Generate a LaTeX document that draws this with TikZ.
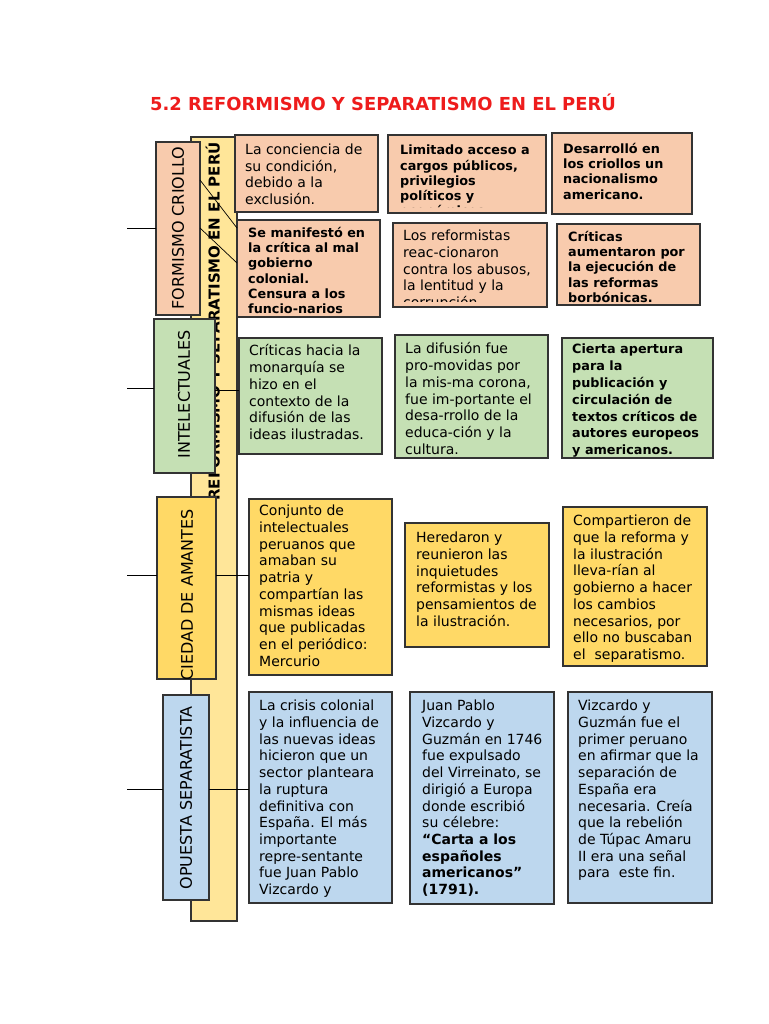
\documentclass[tikz,border=0pt]{standalone}
\usepackage{fontspec}
\setmainfont{DejaVu Sans}
\usetikzlibrary{calc,fit}
\definecolor{salmon}{HTML}{F8CBAD}
\definecolor{lgreen}{HTML}{C5E0B4}
\definecolor{gold}{HTML}{FFD966}
\definecolor{lblue}{HTML}{BDD7EE}
\definecolor{barfill}{HTML}{FFE699}
\definecolor{edge}{HTML}{333333}
\definecolor{titlered}{HTML}{EE1C1C}
% content box: name, fill, x1, y1, x2, y2, text-node options, text, bottom clip inset
\newcommand{\cbx}[9]{%
  \node[boxst, fill=#2, fit={(#3,#4) (#5,#6)}] (#1) {};
  \begin{scope}
    \clip ($(#1.north west)+(1,1)$) rectangle ($(#1.south east)+(-1,-#9)$);
    \node[#7] (#1t) {#8};
  \end{scope}}
% label box
\newcommand{\lbx}[8]{%
  \node[boxst, fill=#2, fit={(#3,#4) (#5,#6)}] (#1) {};
  \begin{scope}
    \clip ($(#1.north west)+(0.7,0.7)$) rectangle ($(#1.south east)+(-0.7,-0.7)$);
    \node[lab,#7] (#1t) {#8};
  \end{scope}}
\begin{document}
\begin{tikzpicture}[x=1pt,y=-1pt,
  boxst/.style={draw=edge, line width=1.3pt, inner sep=0pt, outer sep=0pt},
  nt/.style={inner sep=0pt, align=left, anchor=north west, font=\fontsize{14}{16.7}\selectfont},
  bt/.style={inner sep=0pt, align=left, anchor=north west, font=\bfseries\fontsize{12.8}{15.2}\selectfont},
  btw/.style={inner sep=0pt, align=left, anchor=north west, font=\bfseries\fontsize{12.8}{16.8}\selectfont},
  lab/.style={inner sep=0pt, rotate=90, font=\fontsize{16}{18}\selectfont},
  conn/.style={draw=black, line width=0.9pt},
  thinconn/.style={draw=black, line width=0.7pt},
  titlest/.style={inner sep=0pt, anchor=base west, text=titlered, font=\bfseries\fontsize{17.9}{20}\selectfont},
  bartxt/.style={inner sep=0pt, rotate=90, anchor=base east, font=\bfseries\fontsize{15}{18}\selectfont}
]
\useasboundingbox (0,0) rectangle (768,1024);
\fill[white] (0,0) rectangle (768,1024);

\node[titlest] (title) at (150,111) {5.2 REFORMISMO Y SEPARATISMO EN EL PERÚ};

% central bar
\node[boxst, fill=barfill, fit={(191,137) (237,921)}] (bar) {};
\node[bartxt] (bart) at (219.5,142) {REFORMISMO Y SEPARATISMO EN EL PERÚ};

% helper coordinates
\coordinate (s1) at (127,228);
\coordinate (s2) at (127,388);
\coordinate (s3) at (127,575);
\coordinate (s4) at (127,789);
\coordinate (p1) at (0,180);
\coordinate (q1) at (0,228);
\coordinate (p2) at (0,228);
\coordinate (q2) at (0,263);
\coordinate (k2) at (0,390);
\coordinate (k3) at (0,575);
\coordinate (k4) at (0,789);

% content boxes row 1
\cbx{a1}{salmon}{235}{135}{378}{212}{nt, at={(245,143.5)}}{La conciencia de\\su condición,\\debido a la\\exclusión.}{1}
\cbx{a2}{salmon}{388}{135}{546}{213}{bt, at={(400,145)}}{Limitado acceso a\\cargos públicos,\\privilegios\\políticos y\\económicos}{5}
\cbx{a3}{salmon}{552}{133}{692}{214}{bt, at={(563,143)}}{Desarrolló en\\los criollos un\\nacionalismo\\americano.}{1}
\cbx{b1}{salmon}{237}{220}{380}{317}{bt, at={(248,227)}}{Se manifestó en\\la crítica al mal\\gobierno\\colonial.\\Censura a los\\funcio-narios}{1}
\cbx{b2}{salmon}{393}{223}{547}{307}{nt, at={(403,230)}}{Los reformistas\\reac-cionaron\\contra los abusos,\\la lentitud y la\\corrupción}{6}
\cbx{b3}{salmon}{557}{224}{700}{305}{bt, at={(568,231)}}{Críticas\\aumentaron por\\la ejecución de\\las reformas\\borbónicas.}{1}

% row 2
\cbx{c1}{lgreen}{239}{338}{382}{454}{nt, at={(249,344.5)}}{Críticas hacia la\\monarquía se\\hizo en el\\contexto de la\\difusión de las\\ideas ilustradas.}{1}
\cbx{c2}{lgreen}{395}{335}{548}{458}{nt, at={(405,342.5)}}{La difusión fue\\pro-movidas por\\la mis-ma corona,\\fue im-portante el\\desa-rrollo de la\\educa-ción y la\\cultura.}{1}
\cbx{c3}{lgreen}{562}{338}{713}{458}{btw, at={(572,344)}}{Cierta apertura\\para la\\publicación y\\circulación de\\textos críticos de\\autores europeos\\y americanos.}{1}

% row 3
\cbx{d1}{gold}{249}{499}{392}{675}{nt, at={(259,505)}}{Conjunto de\\intelectuales\\peruanos que\\amaban su\\patria y\\compartían las\\mismas ideas\\que publicadas\\en el periódico:\\Mercurio}{1}
\cbx{d2}{gold}{405}{523}{549}{647}{nt, at={(416,532)}}{Heredaron y\\reunieron las\\inquietudes\\reformistas y los\\pensamientos de\\la ilustración.}{1}
\cbx{d3}{gold}{563}{507}{707}{666}{nt, at={(573,515)}}{Compartieron de\\que la reforma y\\la ilustración\\lleva-rían al\\gobierno a hacer\\los cambios\\necesarios, por\\ello no buscaban\\el\ \ separatismo.}{1}

% row 4
\cbx{e1}{lblue}{249}{692}{392}{903}{nt, at={(259,700)}}{La crisis colonial\\y la influencia de\\las nuevas ideas\\hicieron que un\\sector planteara\\la ruptura\\definitiva con\\España. El más\\importante\\repre-sentante\\fue Juan Pablo\\Vizcardo y\\Guzmán}{5}
\cbx{e2}{lblue}{410}{692}{554}{904}{nt, at={(422,700)}}{Juan Pablo\\Vizcardo y\\Guzmán en 1746\\fue expulsado\\del Virreinato, se\\dirigió a Europa\\donde escribió\\su célebre:\\{\bfseries “Carta a los}\\{\bfseries españoles}\\{\bfseries americanos”}\\{\bfseries (1791).}}{1}
\cbx{e3}{lblue}{568}{692}{712}{903}{nt, at={(578,700)}}{Vizcardo y\\Guzmán fue el\\primer peruano\\en afirmar que la\\separación de\\España era\\necesaria. Creía\\que la rebelión\\de Túpac Amaru\\II era una señal\\para\ \ este fin.}{1}

% label boxes (left)
\lbx{l1}{salmon}{156}{142}{200}{315}{at={(178,228)}}{FORMISMO CRIOLLO}
\lbx{l2}{lgreen}{154}{319}{215}{473}{anchor=east, at={(184,330)}}{INTELECTUALES}
\lbx{l3}{gold}{157}{497}{216}{679}{anchor=east, at={(187,509)}}{CIEDAD DE AMANTES}
\lbx{l4}{lblue}{163}{695}{209}{900}{at={(186,798)}}{OPUESTA SEPARATISTA}

% connectors
\draw[conn] (s1) -- (s1 -| l1.west);
\draw[conn] (s2) -- (s2 -| l2.west);
\draw[conn] (s3) -- (s3 -| l3.west);
\draw[conn] (s4) -- (s4 -| l4.west);
\draw[thinconn] (p1 -| l1.east) -- (q1 -| b1.west);
\draw[thinconn] (p2 -| l1.east) -- (q2 -| b1.west);
\draw[conn] (k2 -| l2.east) -- (k2 -| c1.west);
\draw[conn] (k3 -| l3.east) -- (k3 -| d1.west);
\draw[conn] (k4 -| l4.east) -- (k4 -| e1.west);
\end{tikzpicture}
\end{document}
